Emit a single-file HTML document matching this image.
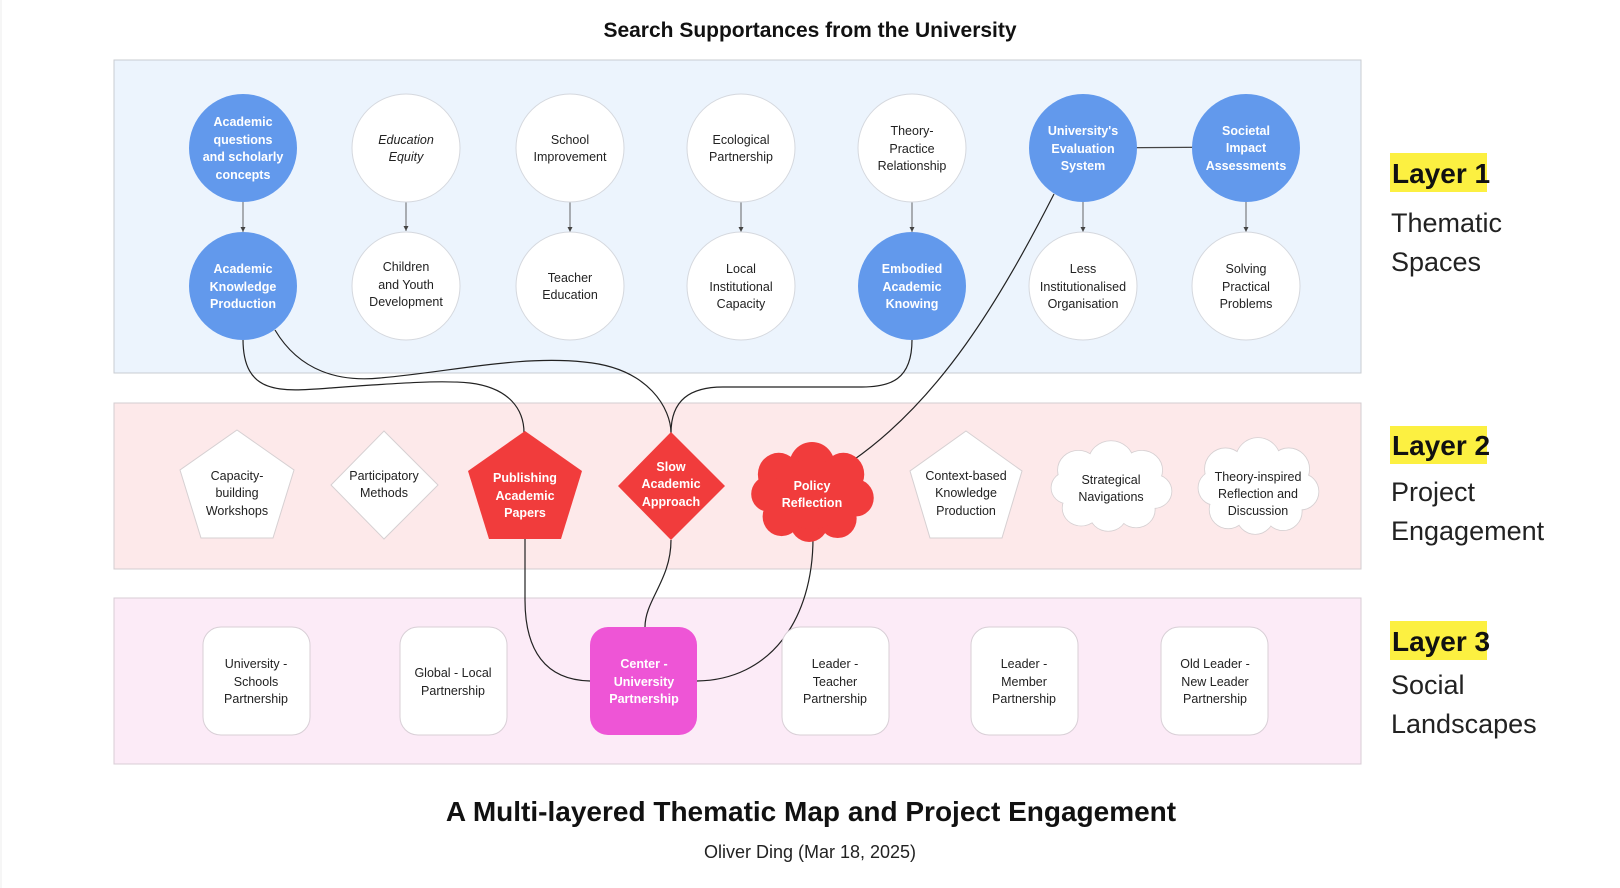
<!DOCTYPE html>
<html><head><meta charset="utf-8"><style>
html,body{margin:0;padding:0;background:#fff;}
svg{display:block;font-family:"Liberation Sans",sans-serif;}
.t{font-size:12.5px;fill:#222;text-anchor:middle;}
.w{font-size:12.5px;fill:#fff;font-weight:bold;text-anchor:middle;}
</style></head><body>
<svg width="1620" height="888" viewBox="0 0 1620 888" xmlns="http://www.w3.org/2000/svg">
<defs>
<g id="cl">
<circle cx="-35" cy="-18" r="22"/><circle cx="0" cy="-27" r="24"/><circle cx="33" cy="-18" r="22"/>
<circle cx="46" cy="6" r="19"/><circle cx="27" cy="27" r="20"/><circle cx="-3" cy="31" r="20"/>
<circle cx="-32" cy="25" r="20"/><circle cx="-46" cy="2" r="18"/><circle cx="0" cy="2" r="36"/>
</g>
<marker id="ar" markerWidth="6" markerHeight="6" refX="5" refY="3" orient="auto" markerUnits="userSpaceOnUse"><path d="M0,0.5 L5,3 L0,5.5z" fill="#444"/></marker>
</defs>
<rect x="0" y="0" width="1620" height="888" fill="#fff"/>
<line x1="1" y1="0" x2="1" y2="888" stroke="#eee"/>
<text x="810" y="37" font-size="21" font-weight="bold" text-anchor="middle" fill="#111">Search  Supportances from the University</text>

<rect x="114" y="60" width="1247" height="313" fill="#ecf4fd" stroke="#c9ccd2"/>
<rect x="114" y="403" width="1247" height="166" fill="#fde9ea" stroke="#d3cdd0"/>
<rect x="114" y="598" width="1247" height="166" fill="#fcebf7" stroke="#d8ccd6"/>

<!-- connectors -->
<g fill="none" stroke="#222" stroke-width="1.2">
<path d="M243 339 C243 395 280 392 330 388 C400 383 440 380 470 383 C510 388 524 410 524 433"/>
<path d="M275 330 C300 372 340 382 380 378 C450 372 520 355 584 362 C650 368 671 410 671 433"/>
<path d="M912 340 C912 380 890 387 862 387 L723 387 C690 387 671 400 671 433"/>
<path d="M1054 194 C1000 300 940 400 852 461"/>
<line x1="1083" y1="148" x2="1246" y2="147" stroke="#444"/>
<path d="M525 539 L525 600 C525 650 545 680 590 681"/>
<path d="M671 540 C671 580 645 600 645 627"/>
<path d="M813 538 C813 620 770 680 697 681"/>
</g>
<g stroke="#555" stroke-width="0.9" marker-end="url(#ar)">
<line x1="243" y1="202" x2="243" y2="232"/><line x1="406" y1="202" x2="406" y2="231"/>
<line x1="570" y1="202" x2="570" y2="232"/><line x1="741" y1="202" x2="741" y2="232"/>
<line x1="912" y1="202" x2="912" y2="232"/><line x1="1083" y1="202" x2="1083" y2="232"/>
<line x1="1246" y1="202" x2="1246" y2="232"/>
</g>

<!-- row1 circles -->
<g stroke="#d5d8de">
<ellipse cx="243" cy="148" rx="54" ry="54" fill="#6299ec" stroke="none"/>
<ellipse cx="406" cy="148" rx="54" ry="54" fill="#fff"/>
<ellipse cx="570" cy="148" rx="54" ry="54" fill="#fff"/>
<ellipse cx="741" cy="148" rx="54" ry="54" fill="#fff"/>
<ellipse cx="912" cy="148" rx="54" ry="54" fill="#fff"/>
<ellipse cx="1083" cy="148" rx="54" ry="54" fill="#6299ec" stroke="none"/>
<ellipse cx="1246" cy="148" rx="54" ry="54" fill="#6299ec" stroke="none"/>
<ellipse cx="243" cy="286" rx="54" ry="54" fill="#6299ec" stroke="none"/>
<ellipse cx="406" cy="286" rx="54" ry="54" fill="#fff"/>
<ellipse cx="570" cy="286" rx="54" ry="54" fill="#fff"/>
<ellipse cx="741" cy="286" rx="54" ry="54" fill="#fff"/>
<ellipse cx="912" cy="286" rx="54" ry="54" fill="#6299ec" stroke="none"/>
<ellipse cx="1083" cy="286" rx="54" ry="54" fill="#fff"/>
<ellipse cx="1246" cy="286" rx="54" ry="54" fill="#fff"/>
</g>
<text class="w"><tspan x="243" y="126">Academic</tspan><tspan x="243" y="144">questions</tspan><tspan x="243" y="161">and scholarly</tspan><tspan x="243" y="179">concepts</tspan></text>
<text class="t" font-style="italic"><tspan x="406" y="144">Education</tspan><tspan x="406" y="161">Equity</tspan></text>
<text class="t"><tspan x="570" y="144">School</tspan><tspan x="570" y="161">Improvement</tspan></text>
<text class="t"><tspan x="741" y="144">Ecological</tspan><tspan x="741" y="161">Partnership</tspan></text>
<text class="t"><tspan x="912" y="135">Theory-</tspan><tspan x="912" y="153">Practice</tspan><tspan x="912" y="170">Relationship</tspan></text>
<text class="w"><tspan x="1083" y="135">University's</tspan><tspan x="1083" y="153">Evaluation</tspan><tspan x="1083" y="170">System</tspan></text>
<text class="w"><tspan x="1246" y="135">Societal</tspan><tspan x="1246" y="152">Impact</tspan><tspan x="1246" y="170">Assessments</tspan></text>
<text class="w"><tspan x="243" y="273">Academic</tspan><tspan x="243" y="291">Knowledge</tspan><tspan x="243" y="308">Production</tspan></text>
<text class="t"><tspan x="406" y="271">Children</tspan><tspan x="406" y="289">and Youth</tspan><tspan x="406" y="306">Development</tspan></text>
<text class="t"><tspan x="570" y="282">Teacher</tspan><tspan x="570" y="299">Education</tspan></text>
<text class="t"><tspan x="741" y="273">Local</tspan><tspan x="741" y="291">Institutional</tspan><tspan x="741" y="308">Capacity</tspan></text>
<text class="w"><tspan x="912" y="273">Embodied</tspan><tspan x="912" y="291">Academic</tspan><tspan x="912" y="308">Knowing</tspan></text>
<text class="t"><tspan x="1083" y="273">Less</tspan><tspan x="1083" y="291">Institutionalised</tspan><tspan x="1083" y="308">Organisation</tspan></text>
<text class="t"><tspan x="1246" y="273">Solving</tspan><tspan x="1246" y="291">Practical</tspan><tspan x="1246" y="308">Problems</tspan></text>

<!-- layer2 shapes -->
<polygon points="237,430 294,470 273,538 201,538 180,470" fill="#fff" stroke="#d6d0d2"/>
<polygon points="384,431 438,485 384,539 331,485" fill="#fff" stroke="#d6d0d2"/>
<polygon points="525,431 582,471 561,539 489,539 468,471" fill="#f13c3c"/>
<polygon points="671,432 725,486 671,540 618,486" fill="#f13c3c"/>
<g transform="translate(812,492) scale(0.95,0.98)" fill="#f13c3c"><use href="#cl"/></g>
<polygon points="966,431 1022,471 1002,538 930,538 910,471" fill="#fff" stroke="#d6d0d2"/>
<g transform="translate(1111,486) scale(0.93,0.88)" fill="#fff" stroke="#d6d0d2" stroke-width="1.8"><use href="#cl"/></g>
<g transform="translate(1111,486) scale(0.93,0.88)" fill="#fff"><use href="#cl"/></g>
<g transform="translate(1258,486) scale(0.93,0.94)" fill="#fff" stroke="#d6d0d2" stroke-width="1.8"><use href="#cl"/></g>
<g transform="translate(1258,486) scale(0.93,0.94)" fill="#fff"><use href="#cl"/></g>

<text class="t"><tspan x="237" y="480">Capacity-</tspan><tspan x="237" y="497">building</tspan><tspan x="237" y="515">Workshops</tspan></text>
<text class="t"><tspan x="384" y="480">Participatory</tspan><tspan x="384" y="497">Methods</tspan></text>
<text class="w"><tspan x="525" y="482">Publishing</tspan><tspan x="525" y="500">Academic</tspan><tspan x="525" y="517">Papers</tspan></text>
<text class="w"><tspan x="671" y="471">Slow</tspan><tspan x="671" y="488">Academic</tspan><tspan x="671" y="506">Approach</tspan></text>
<text class="w"><tspan x="812" y="490">Policy</tspan><tspan x="812" y="507">Reflection</tspan></text>
<text class="t"><tspan x="966" y="480">Context-based</tspan><tspan x="966" y="497">Knowledge</tspan><tspan x="966" y="515">Production</tspan></text>
<text class="t"><tspan x="1111" y="484">Strategical</tspan><tspan x="1111" y="501">Navigations</tspan></text>
<text class="t"><tspan x="1258" y="481">Theory-inspired</tspan><tspan x="1258" y="498">Reflection and</tspan><tspan x="1258" y="515">Discussion</tspan></text>

<!-- layer3 -->
<g stroke="#d8cfd6" fill="#fff">
<rect x="203" y="627" width="107" height="108" rx="18"/>
<rect x="400" y="627" width="107" height="108" rx="18"/>
<rect x="590" y="627" width="107" height="108" rx="18" fill="#ee55d6" stroke="none"/>
<rect x="782" y="627" width="107" height="108" rx="18"/>
<rect x="971" y="627" width="107" height="108" rx="18"/>
<rect x="1161" y="627" width="107" height="108" rx="18"/>
</g>
<text class="t"><tspan x="256" y="668">University -</tspan><tspan x="256" y="686">Schools</tspan><tspan x="256" y="703">Partnership</tspan></text>
<text class="t"><tspan x="453" y="677">Global - Local</tspan><tspan x="453" y="695">Partnership</tspan></text>
<text class="w"><tspan x="644" y="668">Center -</tspan><tspan x="644" y="686">University</tspan><tspan x="644" y="703">Partnership</tspan></text>
<text class="t"><tspan x="835" y="668">Leader -</tspan><tspan x="835" y="686">Teacher</tspan><tspan x="835" y="703">Partnership</tspan></text>
<text class="t"><tspan x="1024" y="668">Leader -</tspan><tspan x="1024" y="686">Member</tspan><tspan x="1024" y="703">Partnership</tspan></text>
<text class="t"><tspan x="1215" y="668">Old Leader -</tspan><tspan x="1215" y="686">New Leader</tspan><tspan x="1215" y="703">Partnership</tspan></text>

<!-- layer labels -->
<rect x="1390" y="153" width="97" height="39" fill="#fcf041"/>
<text x="1392" y="183" font-size="28" font-weight="bold" fill="#111">Layer 1</text>
<text x="1391" y="232" font-size="27" fill="#222">Thematic</text>
<text x="1391" y="271" font-size="27" fill="#222">Spaces</text>
<rect x="1390" y="426" width="97" height="38" fill="#fcf041"/>
<text x="1392" y="455" font-size="28" font-weight="bold" fill="#111">Layer 2</text>
<text x="1391" y="501" font-size="27" fill="#222">Project</text>
<text x="1391" y="540" font-size="27" fill="#222">Engagement</text>
<rect x="1390" y="621" width="97" height="39" fill="#fcf041"/>
<text x="1392" y="651" font-size="28" font-weight="bold" fill="#111">Layer 3</text>
<text x="1391" y="694" font-size="27" fill="#222">Social</text>
<text x="1391" y="733" font-size="27" fill="#222">Landscapes</text>

<text x="811" y="821" font-size="28" font-weight="bold" text-anchor="middle" fill="#111">A Multi-layered Thematic Map and Project Engagement</text>
<text x="810" y="858" font-size="18" text-anchor="middle" fill="#222">Oliver Ding (Mar 18, 2025)</text>
</svg>
</body></html>
